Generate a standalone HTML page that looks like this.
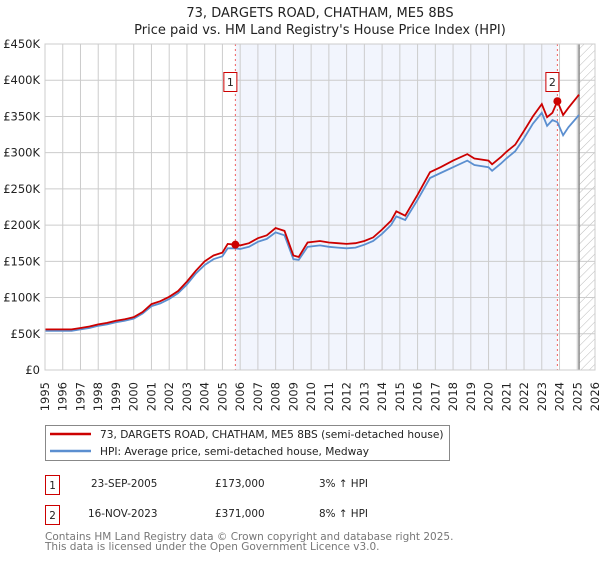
<!DOCTYPE html>
<html><head><meta charset="utf-8"><style>
body{margin:0;background:#fff;font-family:"DejaVu Sans","Liberation Sans",sans-serif;}
svg text{font-family:"DejaVu Sans","Liberation Sans",sans-serif;}
</style></head><body>
<svg id="chart" width="600" height="560" viewBox="0 0 600 560" xmlns="http://www.w3.org/2000/svg">
<defs><pattern id="hatch" width="6" height="6" patternUnits="userSpaceOnUse" patternTransform="rotate(45)"><line x1="0" y1="0" x2="0" y2="6" stroke="#bbb" stroke-width="1"/></pattern></defs>
<text x="320" y="17" font-size="13" text-anchor="middle" fill="#222">73, DARGETS ROAD, CHATHAM, ME5 8BS</text>
<text x="320" y="34" font-size="13" text-anchor="middle" fill="#222">Price paid vs. HM Land Registry's House Price Index (HPI)</text>
<g id="plot"></g>
<g>
<rect x="45.5" y="425.5" width="404" height="35" fill="#fff" stroke="#888"/>
<line x1="50" y1="434" x2="91" y2="434" stroke="#cc0000" stroke-width="2.5"/>
<text x="100" y="438" font-size="10.6" fill="#222">73, DARGETS ROAD, CHATHAM, ME5 8BS (semi-detached house)</text>
<line x1="50" y1="451" x2="91" y2="451" stroke="#5b8fd0" stroke-width="2.5"/>
<text x="100" y="455" font-size="10.6" fill="#222">HPI: Average price, semi-detached house, Medway</text>
</g>
<g font-size="10.4" fill="#222">
<rect x="45.5" y="475.5" width="14" height="19" fill="#fff" stroke="#cc0000"/>
<text x="52.5" y="489" text-anchor="middle">1</text>
<text x="91" y="487">23-SEP-2005</text><text x="215" y="487">£173,000</text><text x="319" y="487">3% ↑ HPI</text>
</g>
<g font-size="10.4" fill="#222">
<rect x="45.5" y="505.5" width="14" height="19" fill="#fff" stroke="#cc0000"/>
<text x="52.5" y="519" text-anchor="middle">2</text>
<text x="88" y="517">16-NOV-2023</text><text x="215" y="517">£371,000</text><text x="319" y="517">8% ↑ HPI</text>
</g>
<text x="45" y="540" font-size="10.5" fill="#777">Contains HM Land Registry data © Crown copyright and database right 2025.</text>
<text x="45" y="550" font-size="10.5" fill="#777">This data is licensed under the Open Government Licence v3.0.</text>
</svg>
<script>
const dates=[1995,1995.5,1996,1996.5,1997,1997.5,1998,1998.5,1999,1999.5,2000,2000.5,2001,2001.5,2002,2002.5,2003,2003.5,2004,2004.5,2005,2005.3,2005.73,2006,2006.5,2007,2007.5,2008,2008.5,2009,2009.3,2009.8,2010.5,2011,2011.5,2012,2012.5,2013,2013.5,2014,2014.5,2014.8,2015.3,2016,2016.7,2017.3,2018,2018.8,2019.2,2020,2020.2,2020.7,2021,2021.5,2022,2022.5,2023,2023.3,2023.6,2023.88,2024.2,2024.5,2025.1];
const hpiValues=[54,54,54,54,56,58,61,63,66,68,71,78,88,92,98,106,118,133,145,153,157,168,168,167,170,177,181,190,186,153,152,170,172,170,169,168,169,173,178,188,200,212,207,235,265,272,280,289,283,280,275,285,292,302,320,340,355,337,345,342,324,335,352];
const priceValues=[56,56,56,56,58,60,63,65,68,70,73,80,91,95,101,109,122,137,150,158,162,174,173,172,175,182,186,196,192,158,156,176,178,176,175,174,175,178,183,194,206,219,213,242,273,280,289,298,292,289,284,294,301,311,330,350,367,349,355,371,352,362,380];
const yTicks=[0,50,100,150,200,250,300,350,400,450];
const yearTicks=[1995,1996,1997,1998,1999,2000,2001,2002,2003,2004,2005,2006,2007,2008,2009,2010,2011,2012,2013,2014,2015,2016,2017,2018,2019,2020,2021,2022,2023,2024,2025,2026];
const sales=[{n:"1",d:2005.73,v:173},{n:"2",d:2023.88,v:371}];
const DATA_END=2025.1;
const X0=45,X1=595,Y0=370,Y1=44;
const xs=d=>X0+(d-1995)/(2026-1995)*(X1-X0);
const ys=v=>Y0-v/450*(Y0-Y1);
const NS="http://www.w3.org/2000/svg";
const g=document.getElementById('plot');
function mk(t,a){const e=document.createElementNS(NS,t);for(const k in a)e.setAttribute(k,a[k]);g.appendChild(e);return e;}
let e=mk('rect',{x:X0,y:Y1,width:X1-X0,height:Y0-Y1,fill:'#fff'});


e=mk('rect',{x:xs(sales[0].d),y:Y1,width:xs(sales[1].d)-xs(sales[0].d),height:Y0-Y1,fill:'#f2f5fd'});


e=mk('rect',{x:xs(DATA_END),y:Y1,width:X1-xs(DATA_END),height:Y0-Y1,fill:'url(#hatch)'});


yearTicks.forEach(y=>{
 e=mk('line',{x1:xs(y),x2:xs(y),y1:Y1,y2:Y0,stroke:'#ccc','stroke-width':1});
 
 
 const t=mk('text',{x:0,y:0,'font-size':11.5,fill:'#222','text-anchor':'end',transform:`translate(${xs(y)+4},${Y0+12}) rotate(-90)`});
 t.textContent=y;
 
 
});
yTicks.forEach(v=>{
 e=mk('line',{x1:X0,x2:X1,y1:ys(v),y2:ys(v),stroke:'#ccc','stroke-width':1});
 
 
 const t=mk('text',{x:40,y:ys(v)+4,'font-size':11.5,fill:'#222','text-anchor':'end'});
 t.textContent=v===0?'£0':'£'+v+'K';
 
 
});
e=mk('line',{x1:xs(DATA_END),x2:xs(DATA_END),y1:Y1,y2:Y0,stroke:'#888','stroke-width':1.5});


sales.forEach(s=>{
 e=mk('line',{x1:xs(s.d),x2:xs(s.d),y1:Y1,y2:Y0,stroke:'#f06060','stroke-width':1,'stroke-dasharray':'2,3'});
 
 
});
const pts=a=>dates.map((d,i)=>xs(d).toFixed(1)+','+ys(a[i]).toFixed(1)).join(' ');
e=mk('polyline',{points:pts(hpiValues),fill:'none',stroke:'#5b8fd0','stroke-width':1.8});


e=mk('polyline',{points:pts(priceValues),fill:'none',stroke:'#cc0000','stroke-width':1.8});


sales.forEach(s=>{
 e=mk('circle',{cx:xs(s.d),cy:ys(s.v),r:4,fill:'#cc0000'});
 
 
 e=mk('rect',{x:xs(s.d)-11.5,y:72.5,width:13,height:19,fill:'#fff',stroke:'#cc0000'});
 
 
 const t=mk('text',{x:xs(s.d)-5,y:86,'font-size':11,'text-anchor':'middle',fill:'#222'});
 t.textContent=s.n;
 
 
});
e=mk('rect',{x:X0,y:Y1,width:X1-X0,height:Y0-Y1,fill:'none',stroke:'#ccc'});


</script>
</body></html>
